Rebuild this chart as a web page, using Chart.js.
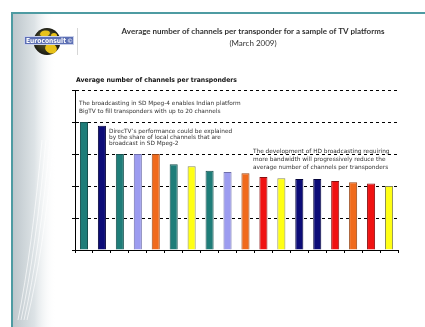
<!DOCTYPE html>
<html>
<head>
<meta charset="utf-8">
<script src="https://cdn.jsdelivr.net/npm/chart.js@4/dist/chart.umd.min.js"></script>
<style>
  html, body { margin: 0; padding: 0; background: #fff; }
  #wrap { width: 425px; height: 327px; position: relative; }
</style>
</head>
<body>
<div id="wrap"><canvas id="c" width="425" height="327"></canvas></div>
<script>
// Platforms, in ranking order (labels are not printed on the axis)
const platforms = ['BigTV', 'DirecTV', '3', '4', '5', '6', '7', '8', '9', '10', '11', '12', '13', '14', '15', '16', '17', '18'];
// Average number of channels per transponder
const channelsPerTransponder = [20, 19.4, 15, 15, 15, 13.4, 13.1, 12.4, 12.2, 12.0, 11.4, 11.2, 11.1, 11.1, 10.8, 10.6, 10.4, 10.0];
// Colour family of each bar
const barFamily = ['teal', 'navy', 'teal', 'lavender', 'orange', 'teal', 'yellow', 'teal', 'lavender', 'orange',
                   'red', 'yellow', 'navy', 'navy', 'red', 'orange', 'red', 'yellow'];
// Value axis
const yMin = 0, yMax = 25, yStep = 5;

const fill = { teal: '#1f7d79', navy: '#0c0c78', lavender: '#9c9cf0', orange: '#f06a1c', yellow: '#ffff14', red: '#f01212' };
const edge = { teal: '#17504e', navy: '#05053c', lavender: '#6e6eaa', orange: '#9a4614', yellow: '#8c8c5a', red: '#8a1010' };

const pageDecor = {
  id: 'pageDecor',
  beforeDraw(chart) {
    const ctx = chart.ctx;
    ctx.save();
    ctx.fillStyle = '#fff';
    ctx.fillRect(0, 0, 425, 327);
    // pale side panel
    const g = ctx.createLinearGradient(13, 0, 56, 0);
    g.addColorStop(0, '#bec7cc');
    g.addColorStop(0.5, '#dde3e6');
    g.addColorStop(1, 'rgba(255,255,255,0)');
    ctx.fillStyle = g;
    ctx.fillRect(13, 14, 44, 313);
    // light streaks in the panel
    ctx.strokeStyle = 'rgba(255,255,255,0.65)';
    ctx.lineWidth = 1;
    for (let i = 0; i < 4; i++) {
      ctx.beginPath();
      ctx.moveTo(42 + i * 4, 140);
      ctx.quadraticCurveTo(32 + i * 4, 250, 18 + i * 3, 320);
      ctx.stroke();
    }
    // frame
    ctx.fillStyle = '#4e9ba2';
    ctx.fillRect(12, 12, 413, 2);
    ctx.fillRect(11, 12, 2, 315);
    // logo globe
    const cx = 47, cy = 41.5, r = 13.5;
    const gg = ctx.createRadialGradient(cx - 3, cy - 5, 2, cx, cy, r);
    gg.addColorStop(0, '#6b6a3a');
    gg.addColorStop(1, '#1c1c14');
    ctx.fillStyle = gg;
    ctx.beginPath(); ctx.arc(cx, cy, r, 0, Math.PI * 2); ctx.fill();
    ctx.fillStyle = '#e8c21a';
    ctx.beginPath(); ctx.ellipse(cx + 4, cy + 7, 6, 5, 0.3, 0, Math.PI * 2); ctx.fill();
    ctx.beginPath(); ctx.ellipse(cx - 2, cy - 8, 5, 3, -0.2, 0, Math.PI * 2); ctx.fill();
    ctx.beginPath(); ctx.ellipse(cx + 7, cy - 6, 3, 2.5, 0, 0, Math.PI * 2); ctx.fill();
    // logo label
    ctx.fillStyle = '#5c6fb4';
    ctx.strokeStyle = '#c9d0ea';
    ctx.lineWidth = 1;
    ctx.fillRect(24, 36, 50, 9);
    ctx.strokeRect(24.5, 36.5, 49, 8);
    ctx.fillStyle = '#fff';
    ctx.font = 'bold 7px "DejaVu Sans"';
    ctx.textBaseline = 'middle';
    ctx.textAlign = 'left';
    ctx.fillText('Euroconsult', 26, 41, 40);
    ctx.font = '6px "DejaVu Sans"';
    ctx.fillText('\u00a9', 67, 41);
    // separator
    ctx.fillStyle = '#d6d6d6';
    ctx.fillRect(77, 28, 1, 27);
    // titles
    ctx.fillStyle = '#333';
    ctx.textAlign = 'center';
    ctx.font = 'bold 8px Lato';
    ctx.fillText('Average number of channels per transponder for a sample of TV platforms', 253, 31.5, 294);
    ctx.font = '8px Lato';
    ctx.fillText('(March 2009)', 253, 43.5);
    ctx.textAlign = 'left';
    ctx.fillStyle = '#111';
    ctx.font = 'bold 6.5px "DejaVu Sans"';
    ctx.fillText('Average number of channels per transponders', 76, 80, 161);
    ctx.restore();
  },
  afterDraw(chart) {
    const ctx = chart.ctx;
    ctx.save();
    ctx.fillStyle = '#333';
    ctx.textBaseline = 'middle';
    ctx.textAlign = 'left';
    ctx.font = '5.8px "DejaVu Sans"';
    const blocks = [
      { x: 79, y: 103, dy: 8.5, w: 174, lines: ['The broadcasting in SD Mpeg-4 enables Indian platform', 'BigTV to fill transponders with up to 20 channels'] },
      { x: 109, y: 131, dy: 6, w: 125, lines: ['DirecTV\u2019s performance could be explained', 'by the share of local channels that are', 'broadcast in SD Mpeg-2'] },
      { x: 253, y: 151.5, dy: 7.8, w: 142, lines: ['The development of HD broadcasting requiring', 'more bandwidth will progressively reduce the', 'average number of channels per transponders'] }
    ];
    for (const b of blocks) {
      b.lines.forEach((t, i) => ctx.fillText(t, b.x, b.y + i * b.dy, b.w));
    }
    ctx.restore();
  }
};

new Chart(document.getElementById('c'), {
  type: 'bar',
  data: {
    labels: platforms,
    datasets: [{
      data: channelsPerTransponder,
      backgroundColor: barFamily.map(f => fill[f]),
      borderColor: barFamily.map(f => edge[f]),
      borderWidth: 1,
      barPercentage: 0.45,
      categoryPercentage: 1
    }]
  },
  options: {
    responsive: false,
    animation: false,
    devicePixelRatio: 1,
    layout: { padding: { left: 67, right: 27, top: 90, bottom: 69 } },
    plugins: { legend: { display: false }, tooltip: { enabled: false }, title: { display: false } },
    scales: {
      x: {
        ticks: { display: false },
        grid: { drawOnChartArea: false, drawTicks: true, tickLength: 3, color: '#000', offset: true },
        border: { color: '#000', width: 1 },
        afterFit: s => { s.height = 8; }
      },
      y: {
        min: yMin, max: yMax,
        ticks: { display: false, stepSize: yStep },
        grid: { color: '#000', lineWidth: 1, drawTicks: true, tickLength: 3, tickBorderDash: [], tickColor: '#000' },
        border: { color: '#000', width: 1, dash: [3, 3] },
        afterFit: s => { s.width = 8; }
      }
    }
  },
  plugins: [pageDecor]
});
</script>
</body>
</html>
